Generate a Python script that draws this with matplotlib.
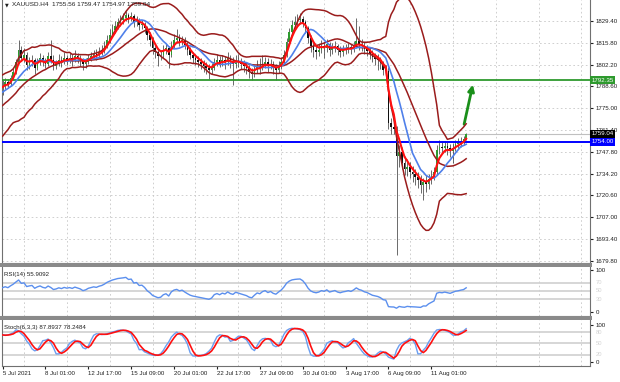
import matplotlib
matplotlib.use('Agg')
import matplotlib.pyplot as plt
from matplotlib.patches import Rectangle
import numpy as np
import pandas as pd

plt.rcParams['font.family'] = ['Liberation Sans', 'DejaVu Sans']

# XAUUSD H4, bars (5 Jul - 13 Aug 2021)
# a few bars before the visible window, only to warm up the indicators
pre_close = [1776.0, 1773.5, 1770.2, 1766.8, 1762.4, 1760.1, 1763.5, 1761.8, 1765.2, 1768.9, 1767.3, 1771.6,
             1774.8, 1772.5, 1776.9, 1780.3, 1778.6, 1782.4, 1785.1, 1783.7, 1787.9, 1786.2, 1788.8, 1788.2]
pre_high = [1779.2, 1777.4, 1774.0, 1771.5, 1767.0, 1764.3, 1766.8, 1765.9, 1768.4, 1772.1, 1771.0, 1774.7,
            1777.6, 1776.3, 1779.8, 1783.5, 1782.4, 1785.7, 1788.3, 1787.2, 1791.0, 1790.1, 1792.2, 1791.9]
pre_low = [1772.3, 1769.8, 1766.1, 1762.9, 1758.4, 1756.9, 1758.7, 1758.2, 1760.6, 1764.3, 1763.5, 1766.9,
           1770.4, 1768.8, 1771.9, 1776.2, 1775.0, 1778.1, 1781.3, 1780.2, 1783.4, 1782.7, 1784.9, 1784.6]

close = [1789.5, 1791.4, 1790.1, 1793.9, 1797.6, 1803.8, 1811.3, 1806.3, 1808.2, 1802.0,
         1803.8, 1805.1, 1800.1, 1803.8, 1806.3, 1803.8, 1802.6, 1807.6, 1805.1, 1801.3,
         1802.6, 1805.1, 1803.8, 1806.3, 1805.1, 1806.3, 1805.1, 1807.6, 1806.3, 1805.1,
         1802.6, 1803.8, 1806.3, 1807.6, 1808.8, 1808.2, 1810.1, 1811.3, 1813.8, 1817.6,
         1820.7, 1823.8, 1826.3, 1828.8, 1830.0, 1831.3, 1833.1, 1831.3, 1832.5, 1828.8,
         1830.0, 1826.9, 1827.5, 1825.0, 1820.7, 1817.6, 1812.6, 1810.1, 1807.6, 1808.2,
         1811.3, 1812.6, 1808.2, 1814.4, 1817.6, 1818.8, 1816.3, 1817.6, 1814.4, 1811.3,
         1808.2, 1806.3, 1805.1, 1803.8, 1802.6, 1801.3, 1800.1, 1798.9, 1800.1, 1803.8,
         1805.1, 1803.2, 1805.1, 1803.8, 1806.3, 1803.8, 1802.6, 1805.1, 1803.8, 1802.6,
         1801.3, 1800.1, 1797.6, 1796.4, 1798.9, 1801.3, 1800.1, 1802.6, 1803.8, 1801.3,
         1802.6, 1800.1, 1798.9, 1801.3, 1803.8, 1808.2, 1816.3, 1822.5, 1826.9, 1828.8,
         1830.0, 1830.6, 1828.8, 1825.0, 1818.8, 1813.8, 1811.3, 1810.1, 1811.3, 1813.8,
         1812.6, 1815.1, 1811.3, 1812.6, 1813.8, 1811.3, 1810.1, 1811.3, 1812.0, 1813.0,
         1812.0, 1814.0, 1817.0, 1815.0, 1814.0, 1812.0, 1811.0, 1809.0, 1807.0, 1806.0,
         1805.0, 1803.0, 1799.0, 1798.0, 1766.0, 1763.0, 1762.0, 1745.0, 1748.0, 1741.0,
         1737.0, 1738.5, 1735.0, 1734.0, 1732.0, 1730.0, 1727.0, 1729.0, 1728.0, 1731.0,
         1733.0, 1735.0, 1749.0, 1751.0, 1750.0, 1751.5, 1750.0, 1748.5, 1750.5, 1752.5,
         1753.3, 1754.6, 1755.56, 1759.04]
high = [1792.5, 1794.0, 1793.2, 1795.8, 1800.2, 1806.0, 1817.6, 1814.0, 1812.5, 1810.1,
        1806.9, 1808.2, 1806.3, 1806.5, 1809.5, 1808.2, 1806.3, 1810.1, 1817.6, 1808.2,
        1805.1, 1808.8, 1807.6, 1810.1, 1808.2, 1809.5, 1808.8, 1811.3, 1809.5, 1808.2,
        1806.3, 1806.3, 1808.8, 1810.1, 1811.3, 1811.9, 1813.2, 1814.4, 1817.0, 1820.7,
        1824.4, 1827.5, 1829.4, 1831.3, 1833.1, 1834.4, 1835.6, 1834.4, 1835.0, 1833.8,
        1832.5, 1831.3, 1830.0, 1828.8, 1826.3, 1822.5, 1819.4, 1814.4, 1812.6, 1811.3,
        1814.4, 1815.1, 1813.8, 1817.0, 1821.3, 1824.4, 1821.3, 1820.0, 1819.4, 1816.3,
        1813.2, 1810.1, 1808.8, 1807.6, 1806.3, 1805.1, 1803.8, 1802.6, 1803.2, 1806.3,
        1808.8, 1807.6, 1808.2, 1807.6, 1810.1, 1808.2, 1806.9, 1808.2, 1808.8, 1806.3,
        1805.1, 1803.8, 1801.9, 1800.1, 1802.0, 1805.1, 1806.3, 1808.2, 1807.0, 1806.3,
        1805.7, 1804.5, 1802.6, 1804.5, 1807.0, 1811.3, 1818.8, 1825.0, 1830.0, 1832.5,
        1833.8, 1834.4, 1832.5, 1830.0, 1826.3, 1820.7, 1816.3, 1814.4, 1815.1, 1817.6,
        1816.3, 1818.2, 1816.3, 1815.7, 1816.9, 1815.1, 1813.8, 1814.4, 1815.1, 1815.7,
        1815.1, 1817.0, 1831.3, 1826.3, 1818.2, 1816.3, 1814.4, 1813.2, 1811.3, 1809.5,
        1808.8, 1807.0, 1804.5, 1801.9, 1800.7, 1768.9, 1766.3, 1764.0, 1752.0, 1750.8,
        1745.2, 1743.3, 1741.4, 1738.9, 1737.1, 1735.3, 1733.4, 1731.5, 1733.4, 1734.0,
        1736.5, 1738.4, 1752.0, 1755.2, 1754.6, 1754.6, 1754.0, 1752.7, 1753.3, 1755.2,
        1756.5, 1757.1, 1757.7, 1759.47]
low = [1783.5, 1786.8, 1787.5, 1788.9, 1792.5, 1796.4, 1802.5, 1804.2, 1803.8, 1798.9,
       1799.5, 1801.3, 1796.4, 1798.9, 1802.0, 1801.3, 1800.1, 1801.3, 1803.0, 1798.9,
       1799.5, 1801.3, 1800.7, 1802.6, 1802.0, 1803.2, 1801.3, 1803.8, 1803.2, 1801.3,
       1798.9, 1800.1, 1802.6, 1804.5, 1805.7, 1805.1, 1806.9, 1808.2, 1809.5, 1812.6,
       1815.7, 1819.4, 1821.9, 1824.4, 1826.3, 1827.5, 1829.4, 1828.2, 1829.4, 1825.7,
       1826.3, 1823.8, 1824.4, 1821.9, 1817.6, 1813.8, 1808.8, 1806.3, 1801.3, 1805.1,
       1806.3, 1808.8, 1800.1, 1806.9, 1812.6, 1815.7, 1813.8, 1814.4, 1811.9, 1808.2,
       1805.7, 1803.2, 1801.9, 1800.7, 1799.5, 1797.6, 1796.4, 1793.2, 1796.4, 1798.9,
       1801.3, 1800.7, 1801.3, 1799.5, 1802.0, 1800.1, 1789.5, 1800.1, 1800.7, 1799.5,
       1797.6, 1796.4, 1793.9, 1792.6, 1794.5, 1797.0, 1796.4, 1798.9, 1800.1, 1797.6,
       1799.5, 1796.4, 1792.6, 1797.0, 1799.5, 1802.6, 1806.9, 1815.1, 1820.7, 1825.0,
       1826.3, 1827.5, 1825.7, 1821.9, 1815.7, 1810.1, 1806.9, 1805.7, 1807.6, 1809.5,
       1806.3, 1810.1, 1807.6, 1808.8, 1810.1, 1808.2, 1806.9, 1807.6, 1808.8, 1809.5,
       1808.8, 1810.1, 1812.6, 1811.3, 1810.7, 1808.8, 1807.6, 1805.7, 1803.8, 1801.9,
       1798.9, 1799.5, 1795.7, 1794.5, 1762.0, 1758.8, 1759.0, 1683.5, 1738.4, 1737.1,
       1733.4, 1732.8, 1731.5, 1729.0, 1727.2, 1725.3, 1722.1, 1717.8, 1722.8, 1724.6,
       1727.8, 1730.3, 1733.4, 1746.5, 1747.1, 1747.7, 1745.9, 1744.6, 1740.9, 1748.4,
       1749.6, 1750.8, 1752.1, 1754.97]

date_labels = ['5 Jul 2021', '8 Jul 01:00', '12 Jul 17:00', '15 Jul 09:00', '20 Jul 01:00',
               '22 Jul 17:00', '27 Jul 09:00', '30 Jul 01:00', '3 Aug 17:00', '6 Aug 09:00',
               '11 Aug 01:00']
price_ticks = [1679.80, 1693.40, 1707.00, 1720.60, 1734.20, 1747.80, 1761.40, 1775.00,
               1788.60, 1802.20, 1815.80, 1829.40]
resistance = 1792.35
support = 1754.00
last_price = 1759.04
arrow_from = (172.0, 1763.3)
arrow_to = (175.7, 1791.4)

# ---- indicators ----
n_pre = len(pre_close)
c = pd.Series(pre_close + close)
h = pd.Series(pre_high + high)
l = pd.Series(pre_low + low)
o = c.shift(1).fillna(c.iloc[0])

mid = c.rolling(20).mean()
sd = c.rolling(20).std(ddof=0)
up, dn = mid + 2 * sd, mid - 2 * sd
fast = c.ewm(span=4, adjust=False).mean()
slow = c.rolling(10).mean()

delta = c.diff()
gain = delta.clip(lower=0).ewm(alpha=1 / 14, adjust=False).mean()
loss = (-delta.clip(upper=0)).ewm(alpha=1 / 14, adjust=False).mean()
rsi = 100 - 100 / (1 + gain / loss)

ll = l.rolling(6).min()
hh = h.rolling(6).max()
k = (c - ll).rolling(3).sum() / (hh - ll).rolling(3).sum() * 100
d = k.rolling(3).mean()

vis = slice(n_pre, None)
x = np.arange(len(close))

W, H = 620, 382
fig = plt.figure(figsize=(W / 100, H / 100), dpi=100)


def box(x0, y0, x1, y1):
    return [x0 / W, 1 - y1 / H, (x1 - x0) / W, (y1 - y0) / H]


ax = fig.add_axes(box(2, 0, 590, 263))
ax_r = fig.add_axes(box(2, 267, 590, 316), sharex=ax)
ax_s = fig.add_axes(box(2, 320, 590, 366), sharex=ax)

grid_kw = dict(color='#c8c8c8', lw=0.6, ls=(0, (2, 3)), zorder=0)
vgrid = np.arange(8, 220, 16)
for a in (ax, ax_r, ax_s):
    a.set_facecolor('white')
    for v in vgrid:
        a.axvline(v, **grid_kw)
    for s in a.spines.values():
        s.set_color('#707070')
        s.set_linewidth(0.8)
    a.spines['top'].set_visible(False)
    a.yaxis.tick_right()
    a.tick_params(axis='y', direction='out', length=2.5, pad=1.5, labelsize=4.4,
                  colors='#202020', left=False, right=True)
    a.tick_params(axis='x', bottom=False, labelbottom=False)
ax.set_xlim(-0.2, 219.2)

# ---- main price panel ----
ax.set_ylim(1678.5, 1842.5)
for p in price_ticks:
    ax.axhline(p, **grid_kw)
ax.set_yticks(price_ticks)
ax.set_yticklabels(['%.2f' % p for p in price_ticks])

op = o[vis].values
cl = c[vis].values
bull = cl >= op
ax.vlines(x, l[vis].values, h[vis].values, color='#303030', lw=0.5, zorder=2)
ax.bar(x, np.maximum(np.abs(cl - op), 0.25), bottom=np.minimum(cl, op), width=0.6,
       color=np.where(bull, '#2f9a2f', '#101010'), lw=0, zorder=2)

ax.axhline(last_price, color='#c0c0c0', lw=0.8, zorder=1)
ax.axhline(resistance, color='#2e9a2e', lw=1.3, zorder=3)
ax.axhline(support, color='#0000ff', lw=1.4, zorder=3)

for s in (up, mid, dn):
    ax.plot(x, s[vis].values, color='#9a1c1c', lw=1.1, zorder=4)
ax.plot(x, slow[vis].values, color='#4f80ea', lw=1.2, zorder=4)
ax.plot(x, fast[vis].values, color='#ff1010', lw=1.5, zorder=5)

ax.annotate('', xy=arrow_to, xytext=arrow_from,
            arrowprops=dict(arrowstyle='-|>', color='#1a8f1a', lw=2.0, mutation_scale=9))

tr = ax.get_yaxis_transform()
for val, fc in ((resistance, '#2e9a2e'), (last_price, '#000000'), (support, '#0000ff')):
    ax.text(1.002, val, '%.2f' % val, transform=tr, ha='left', va='center', color='white',
            fontsize=4.4, zorder=6, clip_on=False,
            bbox=dict(boxstyle='square,pad=0.25', fc=fc, ec='none'))

fig.text(5 / W, 1 - 5 / H, '\u25bc', fontsize=3.5, color='#202020', va='center',
         family=['DejaVu Sans'])
fig.text(12 / W, 1 - 5 / H, 'XAUUSD.H4  1755.56 1759.47 1754.97 1759.04', fontsize=4.6,
         color='#202020', va='center')

# ---- RSI panel ----
ax_r.set_ylim(-10.3, 107.2)
for lv in (70, 50, 30):
    ax_r.axhline(lv, color='#d0d0d0', lw=1.2, zorder=1)
    ax_r.text(1.01, lv, str(lv), transform=ax_r.get_yaxis_transform(), fontsize=4.2,
              color='#d4d4d4', va='center', clip_on=False)
ax_r.set_yticks([0, 100])
ax_r.set_yticklabels(['0', '100'])
ax_r.plot(x, rsi[vis].values, color='#5b8fee', lw=1.0, zorder=3)
ax_r.text(0.004, 0.9, 'RSI(14) 55.9092', transform=ax_r.transAxes, fontsize=4.4,
          color='#202020', va='top')

# ---- Stochastic panel ----
ax_s.set_ylim(-10.8, 113.5)
for lv in (80, 50, 20):
    ax_s.axhline(lv, color='#d0d0d0', lw=1.2, zorder=1)
    ax_s.text(1.01, lv, str(lv), transform=ax_s.get_yaxis_transform(), fontsize=4.2,
              color='#d4d4d4', va='center', clip_on=False)
ax_s.set_yticks([0, 100])
ax_s.set_yticklabels(['0', '100'])
ax_s.plot(x, k[vis].values, color='#6b9ef0', lw=1.0, zorder=3)
ax_s.plot(x, d[vis].values, color='#ff1010', lw=1.2, zorder=4)
ax_s.text(0.004, 0.9, 'Stoch(6,3,3) 87.8937 78.2484', transform=ax_s.transAxes,
          fontsize=4.4, color='#202020', va='top', zorder=5)

ax_s.tick_params(axis='x', bottom=True, labelbottom=True, length=2, pad=1.5,
                 labelsize=4.4, colors='#202020')
ax_s.set_xticks(np.arange(len(date_labels)) * 16)
ax_s.set_xticklabels(date_labels, ha='left')

# separators between the panels
for y0, y1 in ((263, 266.5), (316, 319.5)):
    fig.add_artist(Rectangle((0, 1 - y1 / H), 592 / W, (y1 - y0) / H,
                             transform=fig.transFigure, fc='#8a8a8a', ec='none'))

fig.savefig('out.png', dpi=100)
